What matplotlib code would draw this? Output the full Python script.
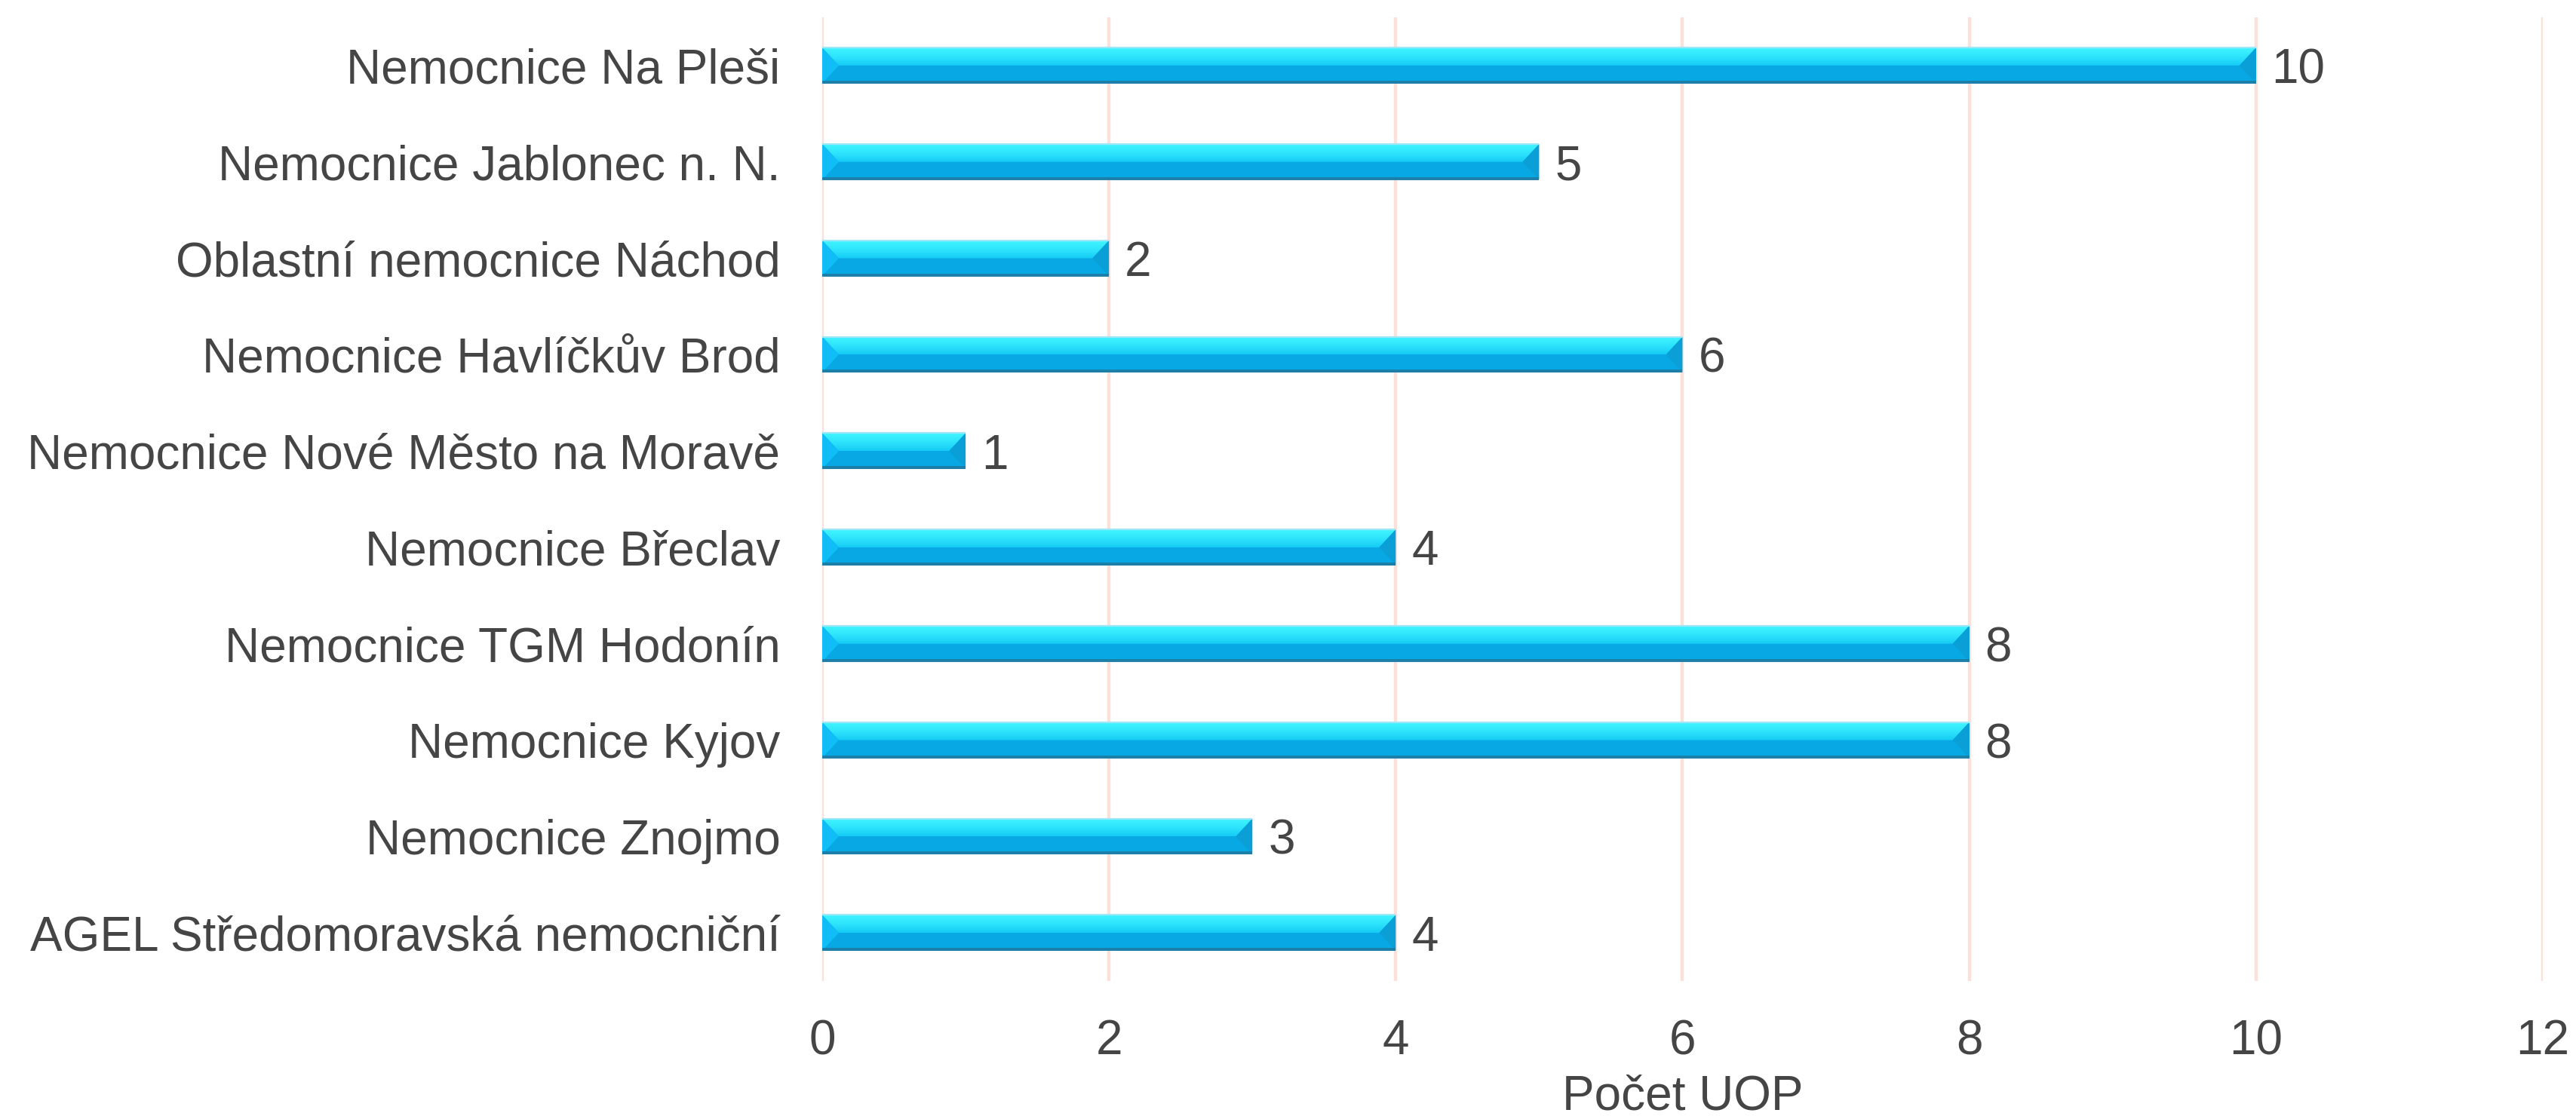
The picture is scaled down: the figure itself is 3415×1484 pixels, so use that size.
import matplotlib
matplotlib.use("Agg")
import matplotlib.pyplot as plt
import numpy as np
from matplotlib.patches import Polygon
from matplotlib.colors import LinearSegmentedColormap

categories = [
    "Nemocnice Na Pleši",
    "Nemocnice Jablonec n. N.",
    "Oblastní nemocnice Náchod",
    "Nemocnice Havlíčkův Brod",
    "Nemocnice Nové Město na Moravě",
    "Nemocnice Břeclav",
    "Nemocnice TGM Hodonín",
    "Nemocnice Kyjov",
    "Nemocnice Znojmo",
    "AGEL Středomoravská nemocniční",
]
values = [10, 5, 2, 6, 1, 4, 8, 8, 3, 4]
x_ticks = [0, 2, 4, 6, 8, 10, 12]
x_label = "Počet UOP"

plt.rcParams['font.family'] = ['Liberation Sans', 'DejaVu Sans']
TXT = '#454545'

fig = plt.figure(figsize=(17.08, 7.42), dpi=200)
ax = fig.add_axes([0.3191, 0.1233, 0.6677, 0.8612])

n = len(categories)
pos = np.arange(n)[::-1]
bh = 0.37
bars = ax.barh(pos, values, height=bh, color='#08a8e4', edgecolor='none', zorder=2)

ax.set_xlim(0, 12)
ax.set_ylim(-0.5, n - 0.5)

grad = LinearSegmentedColormap.from_list('g', ['#16cbf5', '#2ee4fc', '#40f5ff'])
bev = 0.115
for p in bars.patches:
    x0, y0, w, h = p.get_x(), p.get_y(), p.get_width(), p.get_height()
    x1 = x0 + w
    top = y0 + h
    mid = y0 + h * 0.5
    b = min(bev, w / 2)
    face = Polygon([(x0, top), (x1, top), (x1 - b, mid), (x0 + b, mid)], closed=True,
                   facecolor='none', edgecolor='none', transform=ax.transData)
    ax.add_patch(face)
    im = ax.imshow(np.linspace(0, 1, 50).reshape(-1, 1), cmap=grad, aspect='auto',
                   extent=(x0, x1, mid, top), origin='lower', zorder=3, interpolation='bilinear')
    im.set_clip_path(face)
    ax.add_patch(Polygon([(x0, top), (x0 + b, mid), (x0, y0)], closed=True,
                         facecolor='#10bdf6', edgecolor='none', zorder=4))
    ax.add_patch(Polygon([(x1, top), (x1 - b, mid), (x1, y0)], closed=True,
                         facecolor='#0a9fd6', edgecolor='none', zorder=4))
    ax.plot([x0, x1], [y0 + 0.012, y0 + 0.012], color='#1d7fa8', lw=1.4, zorder=5,
            solid_capstyle='butt')
    ax.plot([x0, x1], [top, top], color='#9fe6f6', lw=0.8, zorder=5, solid_capstyle='butt')

ax.set_ylim(-0.5, n - 0.5)
ax.set_xlim(0, 12)

for v, y in zip(values, pos):
    ax.annotate(str(v), xy=(v, y), xytext=(7.5, 0), textcoords='offset points',
                va='center_baseline', ha='left', fontsize=23, color=TXT)

ax.set_yticks(pos)
ax.set_yticklabels(categories)
ax.set_xticks(x_ticks)
ax.set_xticklabels([str(t) for t in x_ticks])
ax.tick_params(axis='y', length=0, pad=20, labelsize=23, labelcolor=TXT)
ax.tick_params(axis='x', length=0, pad=18, labelsize=23, labelcolor=TXT)
ax.set_xlabel(x_label, fontsize=23, color=TXT, labelpad=5)

ax.grid(axis='x', color='#fbe1da', lw=1.6, zorder=0)
ax.set_axisbelow(True)
for s in ax.spines.values():
    s.set_visible(False)

fig.savefig('out.png', dpi=200, facecolor='white')
